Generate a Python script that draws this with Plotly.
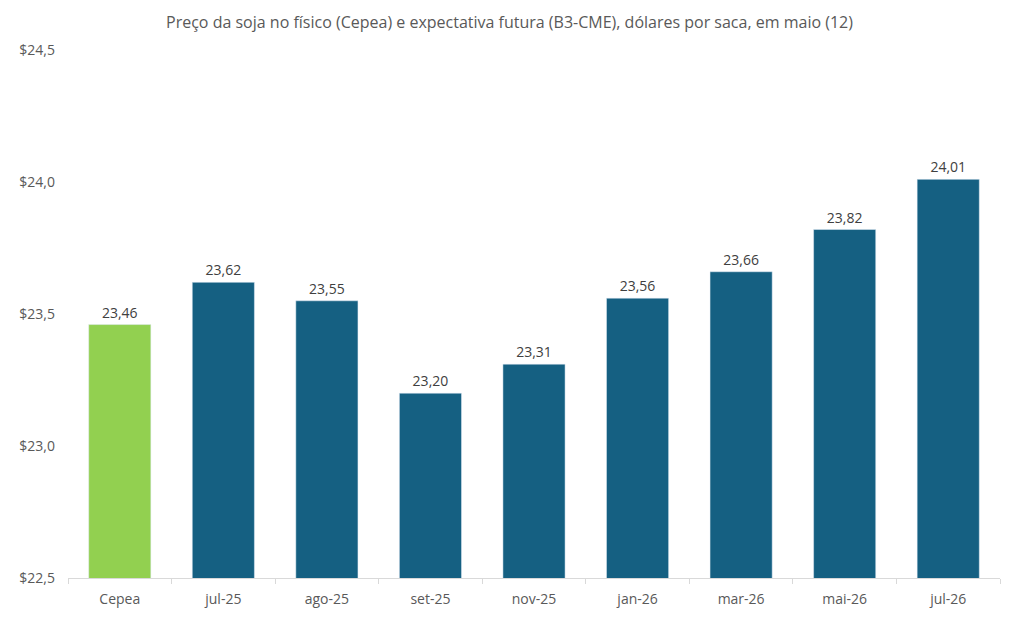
import plotly.graph_objects as go

categories = ["Cepea", "jul-25", "ago-25", "set-25", "nov-25", "jan-26", "mar-26", "mai-26", "jul-26"]
values = [23.46, 23.62, 23.55, 23.20, 23.31, 23.56, 23.66, 23.82, 24.01]
bar_colors = ["#92D050"] + ["#156082"] * 8
y_tickvals = [22.5, 23.0, 23.5, 24.0, 24.5]
y_ticktext = ["$22,5", "$23,0", "$23,5", "$24,0", "$24,5"]
labels = [f"{v:.2f}".replace(".", ",") for v in values]

font_family = "Open Sans, Noto Sans, sans-serif"

fig = go.Figure(go.Bar(
    x=categories, y=values, marker_color=bar_colors,
    text=labels, textposition="outside", cliponaxis=False,
    textfont=dict(size=14, color="#404040", family=font_family),
))

fig.update_layout(
    width=1003, height=621,
    paper_bgcolor="white", plot_bgcolor="white",
    margin=dict(l=60, r=11, t=42, b=51),
    bargap=0.4,
    showlegend=False,
    title=dict(
        text="Preço da soja no físico (Cepea) e expectativa futura (B3-CME), dólares por saca, em maio (12)",
        x=0.5, xanchor="center", y=0.977, yanchor="middle",
        font=dict(size=16, color="#595959", family=font_family),
    ),
    font=dict(family=font_family, color="#595959"),
)
fig.update_xaxes(
    showline=True, linecolor="#D9D9D9", linewidth=1,
    ticks="outside", tickson="boundaries", ticklen=5, tickcolor="#D9D9D9",
    tickfont=dict(size=14, color="#595959"), showgrid=False,
    ticklabelstandoff=8,
)
fig.update_yaxes(
    range=[22.5, 24.5], tickvals=y_tickvals, ticktext=y_ticktext,
    showgrid=False, zeroline=False, showline=False,
    tickfont=dict(size=14, color="#595959"), ticklabelstandoff=12,
)

fig.write_html("out.html")
